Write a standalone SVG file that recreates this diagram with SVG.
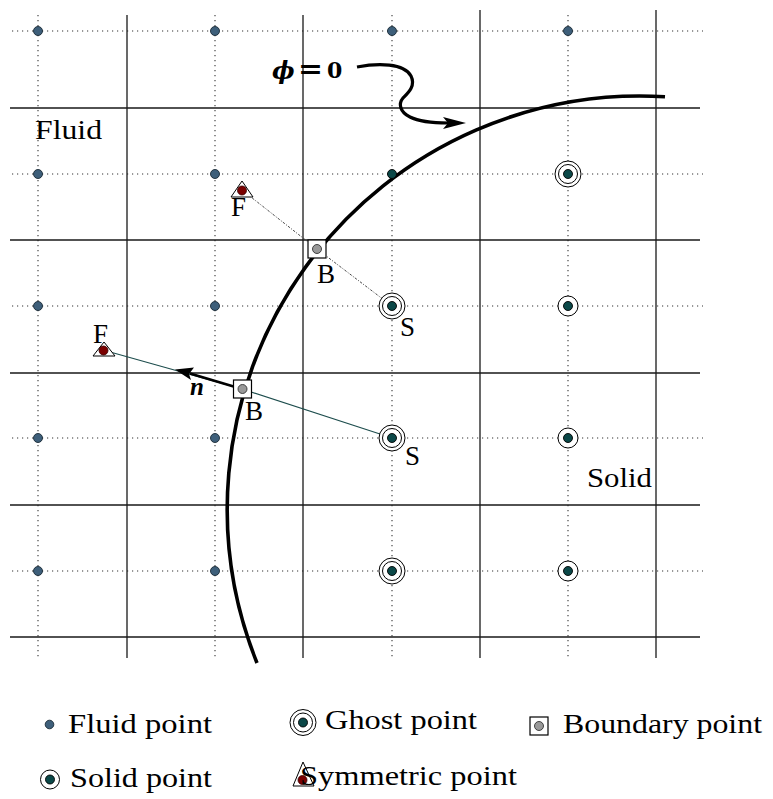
<svg xmlns="http://www.w3.org/2000/svg" width="773" height="799" viewBox="0 0 773 799">
<style>
.dot{stroke:#333;stroke-width:1.1;stroke-dasharray:1.2 3.8;fill:none}
.grid{stroke:#1a1a1a;stroke-width:1.3;fill:none}
.fp{fill:#3e5f7a;stroke:#1a2a35;stroke-width:0.9}
.td{fill:#0b4848;stroke:#000;stroke-width:0.9}
.ring{fill:#fff;stroke:#000;stroke-width:1}
.txt{font-family:"Liberation Serif","Times New Roman",serif;font-size:27px;fill:#000}
.sq{fill:#fff;stroke:#000;stroke-width:1.2}
.bd{fill:#999;stroke:#333;stroke-width:0.9}
.tri{fill:#fff;stroke:#000;stroke-width:1}
.rd{fill:#7a0000;stroke:#300;stroke-width:0.8}
.math{font-family:"DejaVu Serif",serif;font-weight:bold;fill:#000}
</style>
<rect width="773" height="799" fill="#fff"/>
<g id="grid">
<path class="dot" d="M12 31H703M12 174H703M12 306H703M12 438H703M12 571H703M38 15V657M215 15V657M392 15V657M568 15V657"/>
<path class="grid" d="M10 108H700M10 240H700M10 373H700M10 505H700M10 637H700M127 15V658M303 15V658M480 10V658M656 10V658"/>
</g>
<g id="connectors">
<path d="M665 96.8A413 413 0 0 0 257 663" fill="none" stroke="#000" stroke-width="3.6"/>
<path d="M242 190L317 249L384 300" fill="none" stroke="#333" stroke-width="0.9" stroke-dasharray="2.5 1.5 1 1.5"/>
<path d="M103 350L242 389L380 434" fill="none" stroke="#1d4d4d" stroke-width="1.1"/>
<path d="M242 389L190 373.5" fill="none" stroke="#000" stroke-width="2.6"/>
<polygon points="175,369.5 194,367.5 189,374 191,380" fill="#000"/>
<path d="M357 67C378 63,404 63,411 76C416 86,408 93,403 98C398 104,400 112,410 117C420 122,432 123,448 123" fill="none" stroke="#000" stroke-width="3.2"/>
<polygon points="466,123 443,117 448,123 443,129" fill="#000"/>
</g>
<g id="fluid-points">
<circle class="fp" cx="38" cy="31" r="4.5"/><circle class="fp" cx="215" cy="31" r="4.5"/><circle class="fp" cx="392" cy="31" r="4.5"/><circle class="fp" cx="568" cy="31" r="4.5"/>
<circle class="fp" cx="38" cy="174" r="4.5"/><circle class="fp" cx="215" cy="174" r="4.5"/>
<circle class="fp" cx="38" cy="306" r="4.5"/><circle class="fp" cx="215" cy="306" r="4.5"/>
<circle class="fp" cx="38" cy="438" r="4.5"/><circle class="fp" cx="215" cy="438" r="4.5"/>
<circle class="fp" cx="38" cy="571" r="4.5"/><circle class="fp" cx="215" cy="571" r="4.5"/>
</g>
<g id="interface-point"><circle class="td" cx="392" cy="174" r="4.5"/></g>
<g id="ghost-points">
<g><circle class="ring" cx="568" cy="174" r="13"/><circle class="ring" cx="568" cy="174" r="9.5"/><circle class="td" cx="568" cy="174" r="4.5"/></g>
<g><circle class="ring" cx="392" cy="306" r="13"/><circle class="ring" cx="392" cy="306" r="9.5"/><circle class="td" cx="392" cy="306" r="4.5"/></g>
<g><circle class="ring" cx="392" cy="438" r="13"/><circle class="ring" cx="392" cy="438" r="9.5"/><circle class="td" cx="392" cy="438" r="4.5"/></g>
<g><circle class="ring" cx="392" cy="571" r="13"/><circle class="ring" cx="392" cy="571" r="9.5"/><circle class="td" cx="392" cy="571" r="4.5"/></g>
</g>
<g id="solid-points">
<g><circle class="ring" cx="568" cy="306" r="10"/><circle class="td" cx="568" cy="306" r="4.5"/></g>
<g><circle class="ring" cx="568" cy="438" r="10"/><circle class="td" cx="568" cy="438" r="4.5"/></g>
<g><circle class="ring" cx="568" cy="571" r="10"/><circle class="td" cx="568" cy="571" r="4.5"/></g>
</g>
<g id="boundary-points">
<g><rect class="sq" x="308" y="240" width="18" height="18"/><circle class="bd" cx="317" cy="249" r="4.5"/></g>
<g><rect class="sq" x="233.5" y="380" width="18" height="18"/><circle class="bd" cx="242.5" cy="389" r="4.5"/></g>
</g>
<g id="symmetric-points">
<g><polygon class="tri" points="242,181 231,197 253,197"/><circle class="rd" cx="242" cy="190.5" r="4.5"/></g>
<g><polygon class="tri" points="104,342 93,356 115,356"/><circle class="rd" cx="103.5" cy="350.5" r="4.5"/></g>
</g>
<g id="labels">
<text class="txt" x="35" y="139" font-size="28" textLength="67" lengthAdjust="spacingAndGlyphs">Fluid</text>
<text class="txt" x="587" y="487" font-size="28" textLength="65" lengthAdjust="spacingAndGlyphs">Solid</text>
<text class="txt" x="231" y="216">F</text>
<text class="txt" x="317" y="283">B</text>
<text class="txt" x="400" y="336">S</text>
<text class="txt" x="93" y="343">F</text>
<text class="txt" x="245" y="420">B</text>
<text class="txt" x="405" y="465">S</text>
<text x="190" y="395" font-family="Liberation Serif,serif" font-size="25" font-weight="bold" font-style="italic">n</text>
<text class="math" x="272" y="79" font-size="24" font-style="italic">ϕ</text>
<text class="math" x="298" y="78" font-size="28" textLength="25" lengthAdjust="spacingAndGlyphs">=</text>
<text class="math" x="327" y="78" font-size="22">0</text>
</g>
<g id="legend">
<circle class="fp" cx="49.5" cy="724.5" r="4.3"/>
<text class="txt" x="68" y="733" textLength="144" lengthAdjust="spacingAndGlyphs">Fluid point</text>
<circle class="ring" cx="303" cy="722.5" r="13"/><circle class="ring" cx="303" cy="722.5" r="9.5"/><circle class="td" cx="303" cy="722.5" r="4.5"/>
<text class="txt" x="325" y="729" textLength="152" lengthAdjust="spacingAndGlyphs">Ghost point</text>
<rect class="sq" x="530" y="717" width="18" height="18"/><circle class="bd" cx="539" cy="726" r="4.5"/>
<text class="txt" x="563" y="733" textLength="199" lengthAdjust="spacingAndGlyphs">Boundary point</text>
<circle class="ring" cx="50" cy="779.5" r="9.5"/><circle class="td" cx="50" cy="779.5" r="4.5"/>
<text class="txt" x="70" y="787" textLength="142" lengthAdjust="spacingAndGlyphs">Solid point</text>
<polygon class="tri" points="303,762 293,786 314,786"/><circle class="rd" cx="302.5" cy="780" r="4.5"/>
<text class="txt" x="300" y="785" textLength="217" lengthAdjust="spacingAndGlyphs">Symmetric point</text>
</g>
</svg>
